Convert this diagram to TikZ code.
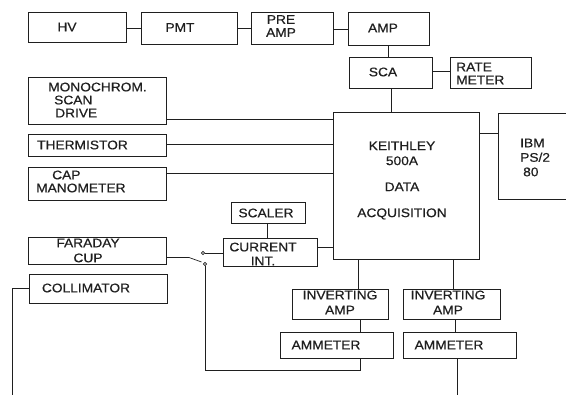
\documentclass[tikz,border=0pt]{standalone}
\usepackage{fontspec}
\setmainfont{Liberation Sans}[FakeStretch=1.1,FakeBold=0.6]
\definecolor{ink}{gray}{0.12}
\begin{document}
\begin{tikzpicture}[x=1pt,y=-1pt,
  box/.style n args={2}{draw=ink, line width=0.7pt, inner sep=0pt, minimum width=#1pt, minimum height=#2pt},
  txt/.style={text=ink, inner sep=0pt, align=center, font=\fontsize{12.5}{13}\selectfont},
  wire/.style={draw=ink, line width=0.7pt},
  contact/.style={circle, draw=ink, line width=0.6pt, fill=white, inner sep=0pt, minimum size=3.2pt}]
\useasboundingbox (0,0) rectangle (566,395);
\clip (0,0) rectangle (566,395);
% boxes
\node[box={98}{30}] (hv) at (77,27) {};
\node[box={96}{32}] (pmt) at (189,28) {};
\node[box={82}{32}] (pre) at (292,28) {};
\node[box={81}{33}] (amp) at (388.5,28.5) {};
\node[box={83}{31}] (sca) at (390.5,72.5) {};
\node[box={81}{31}] (rate) at (490.5,72.5) {};
\node[box={146}{147}] (keith) at (406,185.5) {};
\node[box={80}{86}] (ibm) at (538,156.5) {};
\node[box={138}{47}] (mono) at (97,100.5) {};
\node[box={138}{22}] (therm) at (97,145) {};
\node[box={138}{33}] (cap) at (97,183.5) {};
\node[box={74}{21}] (scaler) at (268,212.5) {};
\node[box={94}{28}] (cur) at (270,252) {};
\node[box={138}{27}] (faraday) at (97,250.5) {};
\node[box={138}{29}] (coll) at (98,288.5) {};
\node[box={96}{30}] (inva) at (340,304) {};
\node[box={97}{30}] (invb) at (451.5,304) {};
\node[box={113}{26}] (amma) at (336.5,345) {};
\node[box={113}{26}] (ammb) at (459.5,345) {};
% texts
\node[txt] (hvT) at (67,27) {HV};
\node[txt] (pmtT) at (180,27.5) {PMT};
\node[txt] (preT) at (281,26) {PRE\\AMP};
\node[txt] (ampT) at (383,28) {AMP};
\node[txt] (scaT) at (383,72) {SCA};
\node[txt, anchor=west, align=left] (rateT) at (456,73.5) {RATE\\METER};
\node[txt, anchor=west, align=left] (monoT) at (48,100) {MONOCHROM.\\\hspace*{6pt}SCAN\\\hspace*{7pt}DRIVE};
\node[txt] (thermT) at (82.5,145) {THERMISTOR};
\node[txt, anchor=west, align=left] (capT) at (36,181.5) {\hspace*{16pt}CAP\\MANOMETER};
\node[txt, font=\fontsize{12.5}{15}\selectfont] (keithT) at (402,180.5) {KEITHLEY\\500A\\[11pt]DATA\\[11pt]ACQUISITION};
\node[txt, anchor=west, align=left, font=\fontsize{12.5}{14.5}\selectfont] (ibmT) at (520,157.5) {IBM\\PS/2\\\hspace*{3pt}80};
\node[txt] (scalerT) at (266,213) {SCALER};
\node[txt, font=\fontsize{12.5}{14}\selectfont] (curT) at (263,254) {CURRENT\\INT.};
\node[txt, font=\fontsize{12.5}{15}\selectfont] (faradayT) at (88,250.5) {FARADAY\\CUP};
\node[txt] (collT) at (86,288) {COLLIMATOR};
\node[txt, font=\fontsize{12.5}{15}\selectfont] (invaT) at (340,302.5) {INVERTING\\AMP};
\node[txt, font=\fontsize{12.5}{15}\selectfont] (invbT) at (448,302.5) {INVERTING\\AMP};
\node[txt] (ammaT) at (326,345) {AMMETER};
\node[txt] (ammbT) at (449,345) {AMMETER};
% free coordinates
\coordinate (bend1) at (189,257.5);
\coordinate (bladeEnd) at (201.5,262);
\coordinate (loopL) at (205,370);
\coordinate (loopR) at (360,370);
\coordinate (collL) at (12,288);
\coordinate (collEnd) at (12,395);
\coordinate (ammbEnd) at (457,395);
\node[contact] (swUp) at (203,253) {};
\node[contact] (swDn) at (205,264) {};
% top chain
\draw[wire] (hv.east |- 0,28) -- (pmt.west |- 0,28);
\draw[wire] (pmt.east |- 0,28) -- (pre.west |- 0,28);
\draw[wire] (pre.east |- 0,29) -- (amp.west |- 0,29);
\draw[wire] (amp.south -| 388,0) -- (sca.north -| 388,0);
\draw[wire] (sca.east |- 0,71) -- (rate.west |- 0,71);
\draw[wire] (sca.south -| 391,0) -- (keith.north -| 391,0);
\draw[wire] (keith.east |- 0,133) -- (ibm.west |- 0,133);
% left inputs
\draw[wire] (mono.east |- 0,119) -- (keith.west |- 0,119);
\draw[wire] (therm.east |- 0,144) -- (keith.west |- 0,144);
\draw[wire] (cap.east |- 0,173) -- (keith.west |- 0,173);
\draw[wire] (scaler.south -| 267,0) -- (cur.north -| 267,0);
\draw[wire] (cur.east |- 0,247) -- (keith.west |- 0,247);
% switch
\draw[wire] (faraday.east |- bend1) -- (bend1) -- (bladeEnd);
\draw[wire] (swUp) -- (cur.west |- swUp);
\draw[wire] (swDn) -- (loopL) -- (loopR) -- (amma.south -| loopR);
% collimator
\draw[wire] (coll.west |- collL) -- (collL) -- (collEnd);
% outputs
\draw[wire] (keith.south -| 358,0) -- (inva.north -| 358,0);
\draw[wire] (keith.south -| 453,0) -- (invb.north -| 453,0);
\draw[wire] (inva.south -| 360,0) -- (amma.north -| 360,0);
\draw[wire] (invb.south -| 455,0) -- (ammb.north -| 455,0);
\draw[wire] (ammb.south -| ammbEnd) -- (ammbEnd);
\end{tikzpicture}
\end{document}
